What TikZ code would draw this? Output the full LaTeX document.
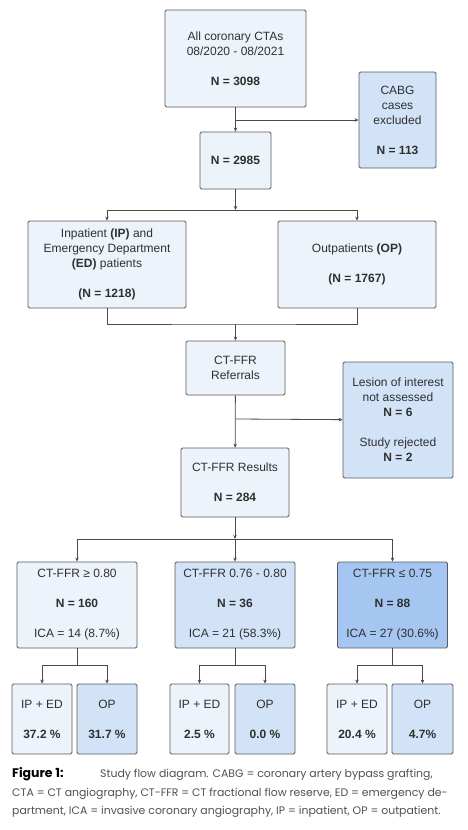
\documentclass[tikz,border=0pt]{standalone}
\usepackage{fontspec}
\setmainfont{Liberation Sans}
\newfontfamily\capfont{Poppins}
\usetikzlibrary{arrows.meta}
\definecolor{pale}{HTML}{EDF3FB}
\definecolor{mild}{HTML}{D2E3F8}
\definecolor{deep}{HTML}{A4C6F1}
\definecolor{boxline}{HTML}{5A5A5A}
\definecolor{linec}{HTML}{4A4A4A}
\definecolor{txt}{HTML}{303030}
\definecolor{captxt}{HTML}{505050}
\begin{document}
\begin{tikzpicture}[x=1pt,y=-1pt,
  box/.style={draw=boxline, line width=0.8pt, rounded corners=1.5pt, fill=pale,
    align=center, inner sep=0pt, text=txt, font=\fontsize{12}{15}\selectfont},
  link/.style={draw=linec, line width=0.8pt},
  arr/.style={link, -{Stealth[length=4pt,width=3.5pt]}}]
  \useasboundingbox (0,0) rectangle (468,830);
  % main column
  \node[box, minimum width=141pt, minimum height=97pt] (all) at (235.5,58.5)
    {All coronary CTAs\\08/2020 - 08/2021\\[15pt]\textbf{N = 3098}};
  \node[box, fill=mild, minimum width=77pt, minimum height=96pt] (cabg) at (397.5,120)
    {CABG\\cases\\excluded\\[15pt]\textbf{N = 113}};
  \node[box, minimum width=71pt, minimum height=57pt] (n2985) at (235.5,160.5) {\textbf{N = 2985}};
  \node[box, minimum width=158pt, minimum height=87pt] (ip) at (107,264.5)
    {Inpatient \textbf{(IP)} and\\Emergency Department\\\textbf{(ED)} patients\\[15pt]\textbf{(N = 1218)}};
  \node[box, minimum width=158pt, minimum height=87pt] (op) at (357,264.5)
    {Outpatients \textbf{(OP)}\\[15pt]\textbf{(N = 1767)}};
  \node[box, minimum width=99pt, minimum height=54pt] (ref) at (235.5,368) {CT-FFR\\Referrals};
  \node[box, fill=mild, minimum width=110pt, minimum height=116pt] (lesion) at (398,420)
    {Lesion of interest\\not assessed\\\textbf{N = 6}\\[15pt]Study rejected\\\textbf{N = 2}};
  \node[box, minimum width=108pt, minimum height=69pt] (res) at (235,482.5)
    {CT-FFR Results\\[15pt]\textbf{N = 284}};
  % CT-FFR groups
  \node[box, minimum width=120pt, minimum height=86pt] (hi) at (77,605)
    {CT-FFR ≥ 0.80\\[15pt]\textbf{N = 160}\\[15pt]ICA = 14 (8.7\%)};
  \node[box, fill=mild, minimum width=120pt, minimum height=86pt] (mid) at (235,605)
    {CT-FFR 0.76 - 0.80\\[15pt]\textbf{N = 36}\\[15pt]ICA = 21 (58.3\%)};
  \node[box, fill=deep, minimum width=110pt, minimum height=86pt] (lo) at (392.5,605)
    {CT-FFR ≤ 0.75\\[15pt]\textbf{N = 88}\\[15pt]ICA = 27 (30.6\%)};
  \node[box, minimum width=60pt, minimum height=70pt] (hiip) at (42,719) {IP + ED\\[15pt]\textbf{37.2 \%}};
  \node[box, fill=mild, minimum width=60pt, minimum height=70pt] (hiop) at (107,719) {OP\\[15pt]\textbf{31.7 \%}};
  \node[box, minimum width=59pt, minimum height=70pt] (midip) at (199.5,719) {IP + ED\\[15pt]\textbf{2.5 \%}};
  \node[box, fill=mild, minimum width=60pt, minimum height=70pt] (midop) at (265,719) {OP\\[15pt]\textbf{0.0 \%}};
  \node[box, minimum width=60pt, minimum height=70pt] (loip) at (357,719) {IP + ED\\[15pt]\textbf{20.4 \%}};
  \node[box, fill=mild, minimum width=61pt, minimum height=70pt] (loop) at (422.5,719) {OP\\[15pt]\textbf{4.7\%}};
  % connectors
  \coordinate (cut1) at (all.south |- cabg.west);
  \draw[arr] (all) -- (n2985);
  \draw[arr] (cut1) -- (cabg);
  \coordinate (fork1) at (235.5,210);
  \draw[arr] (n2985) -- (fork1);
  \draw[arr] (fork1) -| (ip);
  \draw[arr] (fork1) -| (op);
  \coordinate (join1) at (235.5,324);
  \draw[link] (ip) |- (join1) -| (op);
  \draw[arr] (join1) -- (ref);
  \coordinate (cut2) at (235.5,419);
  \draw[arr] (ref) -- (res);
  \draw[arr] (cut2) -- (lesion);
  \coordinate (fork2) at (235,539);
  \draw[arr] (res) -- (fork2);
  \draw[arr] (fork2) -| (hi);
  \draw[arr] (fork2) -- (mid);
  \draw[arr] (fork2) -| (lo);
  \coordinate (hifork) at (77,665);
  \coordinate (midfork) at (235,665);
  \coordinate (lofork) at (392.5,665);
  \draw[link] (hi) -- (hifork);
  \draw[arr] (hifork) -| (hiip);
  \draw[arr] (hifork) -| (hiop);
  \draw[link] (mid) -- (midfork);
  \draw[arr] (midfork) -| (midip);
  \draw[arr] (midfork) -| (midop);
  \draw[link] (lo) -- (lofork);
  \draw[arr] (lofork) -| (loip);
  \draw[arr] (lofork) -| (loop);
  % caption
  \begin{scope}[every node/.style={anchor=base west, inner sep=0pt, text=captxt,
      font=\capfont\fontsize{10.9}{12}\selectfont}]
    \node[text=black, font=\capfont\fontsize{12.5}{12}\selectfont\bfseries] (figlab) at (12,777) {Figure 1:};
    \node (cap1) at (100,777) {Study flow diagram. CABG = coronary artery bypass grafting,};
    \node (cap2) at (12,796) {CTA = CT angiography, CT-FFR = CT fractional flow reserve, ED = emergency de-};
    \node (cap3) at (12,814) {partment, ICA = invasive coronary angiography, IP = inpatient, OP = outpatient.};
  \end{scope}
\end{tikzpicture}
\end{document}
